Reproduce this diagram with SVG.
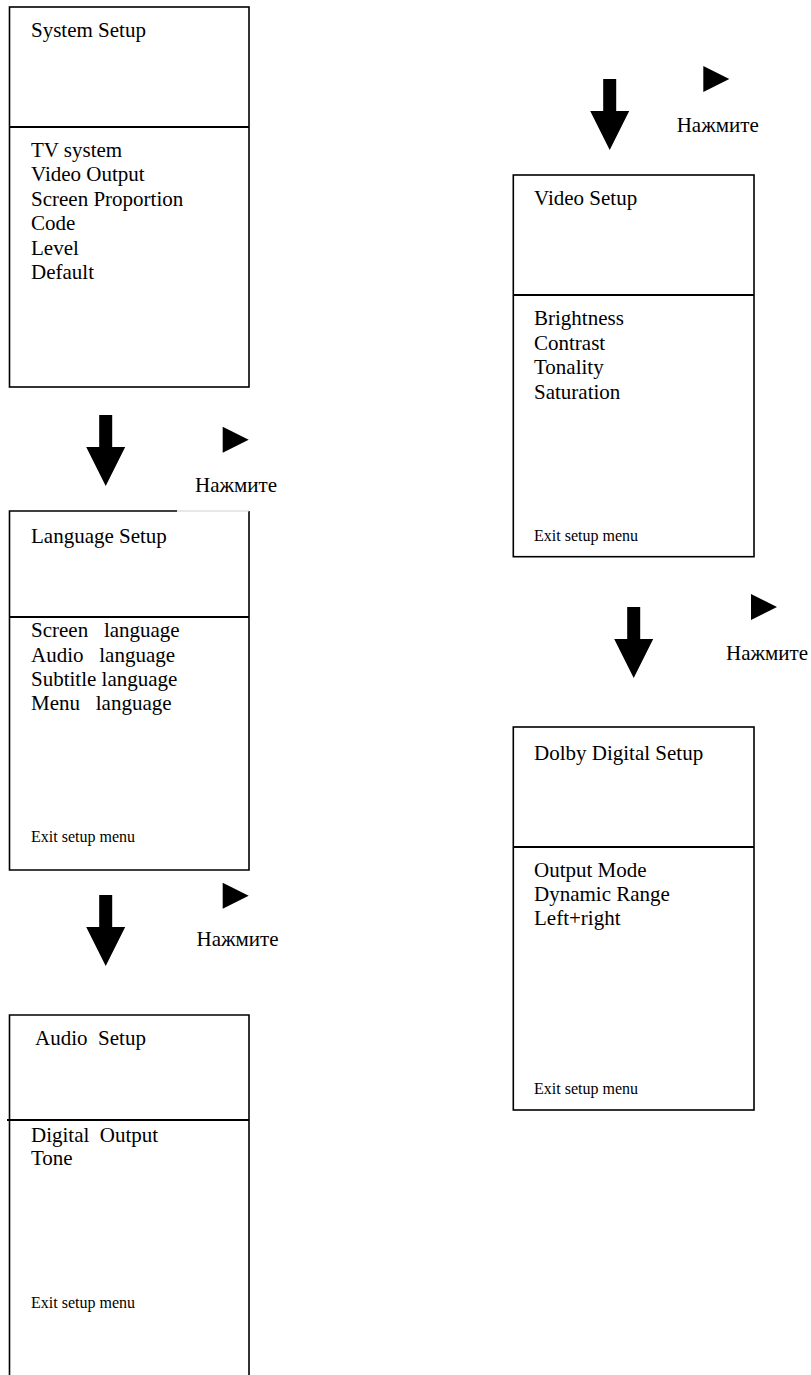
<svg xmlns="http://www.w3.org/2000/svg" width="811" height="1375" viewBox="0 0 811 1375">
<style>
  .box { fill: none; stroke: #000; stroke-width: 1.6; }
  .div { stroke: #000; stroke-width: 2; }
  .t { font-family: "Liberation Serif", "Times New Roman", serif; font-size: 21px; fill: #000; white-space: pre; }
  .s { font-family: "Liberation Serif", "Times New Roman", serif; font-size: 16px; fill: #000; white-space: pre; }
  .arr { fill: #000; }
</style>
<defs>
  <path id="down" d="M-6.5,0 H6.5 V32 H19.5 L0,71 L-19.5,32 H-6.5 Z"/>
  <path id="tri" d="M0,0 L26,13 L0,26 Z"/>
</defs>
<rect width="811" height="1375" fill="#fff"/>

<g id="system-setup">
  <rect class="box" x="9.5" y="7" width="239.5" height="380"/>
  <line class="div" x1="9.5" y1="127" x2="249" y2="127"/>
  <text class="t" x="31" y="37">System Setup</text>
  <text class="t" x="31" y="157">TV system</text>
  <text class="t" x="31" y="181">Video Output</text>
  <text class="t" x="31" y="206">Screen Proportion</text>
  <text class="t" x="31" y="230">Code</text>
  <text class="t" x="31" y="254.5">Level</text>
  <text class="t" x="31" y="279">Default</text>
</g>

<g id="language-setup">
  <path class="box" d="M177,511 H9.5 V870 H249 V511"/>
  <line x1="177" y1="511" x2="249" y2="511" stroke="#d0d0d0" stroke-width="1"/>
  <line class="div" x1="9.5" y1="617" x2="249" y2="617"/>
  <text class="t" x="31" y="543">Language Setup</text>
  <text class="t" x="31" y="637">Screen   language</text>
  <text class="t" x="31" y="662">Audio   language</text>
  <text class="t" x="31" y="686">Subtitle language</text>
  <text class="t" x="31" y="710">Menu   language</text>
  <text class="s" x="31" y="842">Exit setup menu</text>
</g>

<g id="audio-setup">
  <path class="box" d="M9.5,1376 V1015 H249 V1376"/>
  <line class="div" x1="7" y1="1120" x2="249" y2="1120"/>
  <text class="t" x="31" y="1045"> Audio  Setup</text>
  <text class="t" x="31" y="1142">Digital  Output</text>
  <text class="t" x="31" y="1165">Tone</text>
  <text class="s" x="31" y="1308">Exit setup menu</text>
</g>

<g id="video-setup">
  <rect class="box" x="513.3" y="175" width="240.7" height="381.7"/>
  <line class="div" x1="513.3" y1="295" x2="754" y2="295"/>
  <text class="t" x="534" y="205">Video Setup</text>
  <text class="t" x="534" y="325">Brightness</text>
  <text class="t" x="534" y="349.5">Contrast</text>
  <text class="t" x="534" y="374">Tonality</text>
  <text class="t" x="534" y="398.5">Saturation</text>
  <text class="s" x="534" y="540.7">Exit setup menu</text>
</g>

<g id="dolby-digital-setup">
  <rect class="box" x="513.3" y="727" width="240.7" height="383"/>
  <line class="div" x1="513.3" y1="847" x2="754" y2="847"/>
  <text class="t" x="534" y="760">Dolby Digital Setup</text>
  <text class="t" x="534" y="876.5">Output Mode</text>
  <text class="t" x="534" y="900.5">Dynamic Range</text>
  <text class="t" x="534" y="925">Left+right</text>
  <text class="s" x="534" y="1094">Exit setup menu</text>
</g>

<g id="connectors">
  <use href="#down" class="arr" x="105.7" y="415"/>
  <use href="#tri" class="arr" x="222.7" y="426.7"/>
  <text class="t" x="195" y="492">Нажмите</text>

  <use href="#down" class="arr" x="105.7" y="895"/>
  <use href="#tri" class="arr" x="222.7" y="882.7"/>
  <text class="t" x="196.5" y="946">Нажмите</text>

  <use href="#down" class="arr" x="609.7" y="79"/>
  <use href="#tri" class="arr" x="703.3" y="66"/>
  <text class="t" x="676.7" y="131.7">Нажмите</text>

  <use href="#down" class="arr" x="633.7" y="607"/>
  <use href="#tri" class="arr" x="751" y="594"/>
  <text class="t" x="726" y="660">Нажмите</text>
</g>
</svg>
